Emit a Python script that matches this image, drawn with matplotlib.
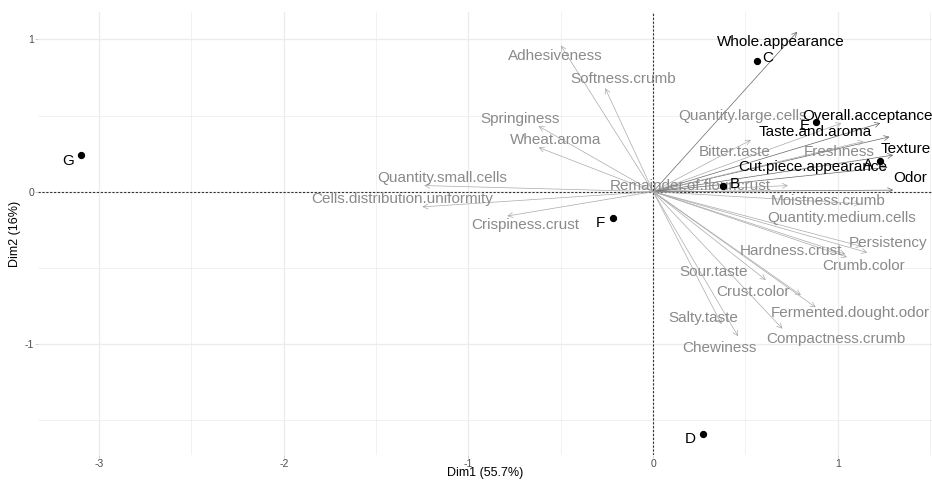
import matplotlib
matplotlib.use("Agg")
import matplotlib.pyplot as plt
import numpy as np

plt.rcParams['font.family'] = ['Liberation Sans', 'DejaVu Sans']

# Variable loadings on the first two dimensions
variables = [
    "Adhesiveness", "Softness.crumb", "Springiness", "Wheat.aroma",
    "Quantity.small.cells", "Cells.distribution.uniformity", "Crispiness.crust",
    "Remainder.of.flour.crust", "Whole.appearance", "Quantity.large.cells",
    "Overall.acceptance", "Taste.and.aroma", "Bitter.taste", "Freshness",
    "Texture", "Cut.piece.appearance", "Odor", "Moistness.crumb",
    "Quantity.medium.cells", "Persistency", "Hardness.crust", "Crumb.color",
    "Sour.taste", "Crust.color", "Fermented.dought.odor", "Salty.taste",
    "Compactness.crumb", "Chewiness",
]
var_dim1 = [-0.50, -0.26, -0.62, -0.62, -1.24, -1.25, -0.79,
            0.73, 0.78, 1.02, 1.23, 1.28, 0.53, 1.14,
            1.30, 1.27, 1.30, 1.12, 1.13, 1.16, 1.04, 1.05,
            0.61, 0.80, 0.88, 0.37, 0.70, 0.46]
var_dim2 = [0.96, 0.68, 0.43, 0.29, 0.04, -0.10, -0.16,
            0.04, 1.05, 0.45, 0.45, 0.36, 0.34, 0.33,
            0.24, 0.16, 0.01, -0.08, -0.36, -0.40, -0.41, -0.43,
            -0.58, -0.68, -0.76, -0.87, -0.90, -0.95]
strong_vars = {"Whole.appearance", "Overall.acceptance", "Taste.and.aroma",
               "Texture", "Cut.piece.appearance", "Odor"}

# Sample scores
samples = ["A", "B", "C", "D", "E", "F", "G"]
ind_dim1 = [1.23, 0.38, 0.56, 0.27, 0.88, -0.22, -3.10]
ind_dim2 = [0.20, 0.04, 0.86, -1.59, 0.46, -0.17, 0.24]

# Repelled label anchors for the variable names (data units)
var_label_xy = {
    "Adhesiveness": (-0.53, 0.89), "Softness.crumb": (-0.16, 0.74),
    "Springiness": (-0.72, 0.48), "Wheat.aroma": (-0.53, 0.34),
    "Quantity.small.cells": (-1.14, 0.09),
    "Cells.distribution.uniformity": (-1.36, -0.05),
    "Crispiness.crust": (-0.69, -0.22), "Remainder.of.flour.crust": (0.20, 0.04),
    "Whole.appearance": (0.69, 0.98), "Quantity.large.cells": (0.485, 0.50),
    "Overall.acceptance": (1.16, 0.50), "Taste.and.aroma": (0.88, 0.39),
    "Bitter.taste": (0.44, 0.26), "Freshness": (1.005, 0.26),
    "Texture": (1.37, 0.28), "Cut.piece.appearance": (0.865, 0.16),
    "Odor": (1.39, 0.09), "Moistness.crumb": (0.945, -0.06),
    "Quantity.medium.cells": (1.02, -0.17), "Persistency": (1.27, -0.34),
    "Hardness.crust": (0.745, -0.39), "Crumb.color": (1.14, -0.49),
    "Sour.taste": (0.33, -0.53), "Crust.color": (0.54, -0.66),
    "Fermented.dought.odor": (1.07, -0.80), "Salty.taste": (0.27, -0.83),
    "Compactness.crumb": (0.99, -0.97), "Chewiness": (0.36, -1.03),
}
# Point label placement: offset in points
ind_label_off = {"A": (-9, -3), "B": (8, 1), "C": (8, 2), "D": (-9, -4),
                 "E": (-8, -3), "F": (-9, -4), "G": (-9, -4)}

fig = plt.figure(figsize=(9.32, 4.80), dpi=100)
ax = fig.add_axes([0.041, 0.052, 0.959, 0.923])

xlim = (-3.33, 1.51)
ylim = (-1.73, 1.18)
ax.set_xlim(*xlim)
ax.set_ylim(*ylim)

grid_c = "#ebebeb"
for v in np.arange(-3.5, 1.6, 0.5):
    if xlim[0] < v < xlim[1]:
        ax.axvline(v, color=grid_c, lw=0.9 if float(v).is_integer() else 0.5, zorder=0)
for v in np.arange(-1.5, 1.6, 0.5):
    if ylim[0] < v < ylim[1]:
        ax.axhline(v, color=grid_c, lw=0.9 if float(v).is_integer() else 0.5, zorder=0)

ax.axhline(0, color="#333333", lw=0.8, ls=(0, (2, 1.5)), zorder=1)
ax.axvline(0, color="#333333", lw=0.8, ls=(0, (2, 1.5)), zorder=1)

for name, x, y in zip(variables, var_dim1, var_dim2):
    strong = name in strong_vars
    ac = "#666666" if strong else "#aaaaaa"
    ax.annotate("", xy=(x, y), xytext=(0, 0),
                arrowprops=dict(arrowstyle="->,head_length=0.35,head_width=0.18",
                                color=ac, lw=0.5, shrinkA=0, shrinkB=0),
                zorder=2)
    lx, ly = var_label_xy[name]
    ax.text(lx, ly, name, color="black" if strong else "#8a8a8a",
            fontsize=11, ha="center", va="center", zorder=3)

ax.scatter(ind_dim1, ind_dim2, s=18, color="black", zorder=4)
for name, x, y in zip(samples, ind_dim1, ind_dim2):
    dx, dy = ind_label_off[name]
    ax.annotate(name, xy=(x, y), xytext=(dx, dy), textcoords="offset points",
                ha="center", va="center", fontsize=11, color="black", zorder=5)

for s in ax.spines.values():
    s.set_visible(False)
ax.set_xticks([-3, -2, -1, 0, 1])
ax.set_yticks([-1, 0, 1])
ax.set_xticklabels(["-3", "-2", "-1", "0", "1"])
ax.set_yticklabels(["-1", "0", "1"])
ax.tick_params(axis="both", length=2, width=0.5, color="#bbbbbb",
               labelsize=7.5, labelcolor="#4d4d4d", pad=1)
ax.set_xlabel("Dim1 (55.7%)", fontsize=9)
ax.xaxis.set_label_coords(0.5, -0.041)
ax.xaxis.label.set_va("center")
ax.set_ylabel("Dim2 (16%)", fontsize=9, labelpad=3)

fig.savefig("out.png", dpi=100)
